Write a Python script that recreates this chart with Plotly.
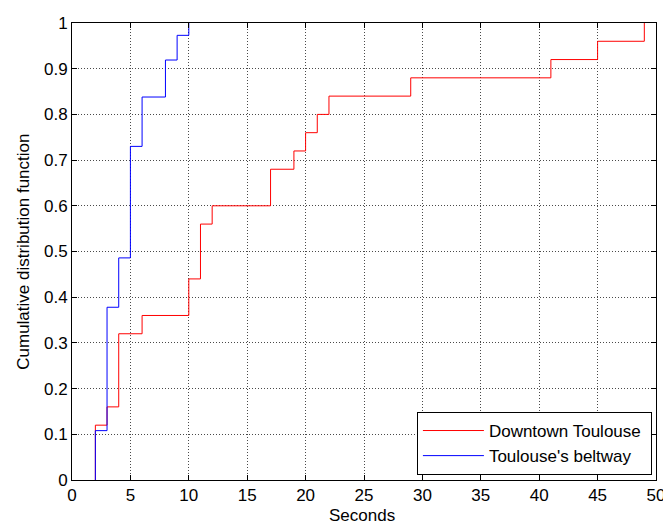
import plotly.graph_objects as go

# Jump times (seconds) and CDF values after each jump
downtown_t = [2, 3, 4, 6, 10, 11, 12, 17, 19, 20, 21, 22, 29, 41, 45, 49]
downtown_cdf = [0.12, 0.16, 0.32, 0.36, 0.44, 0.56, 0.60, 0.68, 0.72, 0.76,
                0.80, 0.84, 0.88, 0.92, 0.96, 1.00]

beltway_t = [2, 3, 4, 5, 6, 8, 9, 10]
beltway_cdf = [0.108, 0.378, 0.486, 0.730, 0.838, 0.919, 0.973, 1.00]

x_ticks = [0, 5, 10, 15, 20, 25, 30, 35, 40, 45, 50]
y_ticks = [0, 0.1, 0.2, 0.3, 0.4, 0.5, 0.6, 0.7, 0.8, 0.9, 1]
y_ticklabels = ["0", "0.1", "0.2", "0.3", "0.4", "0.5", "0.6", "0.7", "0.8", "0.9", "1"]

FONT = "Liberation Sans, Arial, sans-serif"

def step_path(t, cdf):
    # start at zero at the first jump, then horizontal-then-vertical steps
    return [t[0]] + list(t), [0] + list(cdf)

fig = go.Figure()
xr, yr = step_path(downtown_t, downtown_cdf)
fig.add_trace(go.Scatter(x=xr, y=yr, mode="lines", line_shape="hv",
                         line=dict(color="#ff0000", width=1),
                         name="Downtown Toulouse\u00a0"))
xb, yb = step_path(beltway_t, beltway_cdf)
fig.add_trace(go.Scatter(x=xb, y=yb, mode="lines", line_shape="hv",
                         line=dict(color="#0000ff", width=1),
                         name="Toulouse's beltway"))

axis_common = dict(
    showline=True, linecolor="black", linewidth=1, mirror="allticks",
    ticks="inside", ticklen=5, tickcolor="black", tickwidth=1,
    showgrid=True, gridcolor="#4a4a4a", griddash="1px,2px", gridwidth=1,
    zeroline=False, ticklabeloverflow="allow",
    tickfont=dict(family=FONT, size=17, color="black"),
)

# the page body has an 8px default margin, so the figure is drawn 8px in
OFF = 8
W, H = 671 - OFF, 528 - OFF
L, R, T, B = 64, 6, 6, 48
plot_w = W - L - R
plot_h = H - T - B

fig.update_layout(
    width=W, height=H,
    margin=dict(l=L, r=R, t=T, b=B),
    paper_bgcolor="white", plot_bgcolor="white",
    font=dict(family=FONT, size=17, color="black"),
    showlegend=True,
    legend=dict(
        x=0.993, y=0.011, xanchor="right", yanchor="bottom",
        bgcolor="white", bordercolor="black", borderwidth=1,
        font=dict(family=FONT, size=17, color="black"),
        itemwidth=61, tracegroupgap=0,
    ),
    xaxis=dict(
        range=[0, 50], tickvals=x_ticks,
        **axis_common,
    ),
    yaxis=dict(
        range=[0, 1], tickvals=y_ticks, ticktext=y_ticklabels,
        **axis_common,
    ),
    annotations=[
        dict(text="Seconds", xref="paper", yref="paper",
             x=(366 - OFF - L) / plot_w, y=-(516 - OFF - (H - B)) / plot_h,
             xanchor="center", yanchor="middle",
             showarrow=False, font=dict(family=FONT, size=17, color="black")),
        dict(text="Cumulative distribution function", xref="paper", yref="paper",
             x=(22.5 - OFF - L) / plot_w, y=0.5, xanchor="center", yanchor="middle",
             textangle=-90, showarrow=False,
             font=dict(family=FONT, size=17, color="black")),
    ],
)

fig.write_html("out.html")
